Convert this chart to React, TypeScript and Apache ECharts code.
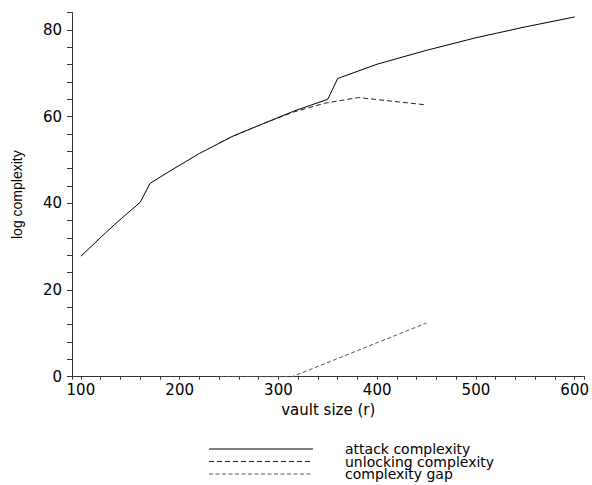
import React, { useEffect, useRef } from "react";
import * as echarts from "echarts";

const seriesNames = ["attack complexity", "unlocking complexity", "complexity gap"];

const attackX = [100, 125, 141, 160, 170, 192, 220, 254, 287, 316, 350, 360, 400, 450, 500, 550, 600];
const attackY = [27.8, 33.2, 36.5, 40.2, 44.6, 47.7, 51.5, 55.5, 58.6, 61.3, 64.0, 68.8, 72.1, 75.3, 78.2, 80.7, 83.0];

const unlockX = [240, 254, 287, 316, 347, 381, 450];
const unlockY = [53.9, 55.5, 58.6, 61.1, 63.1, 64.4, 62.7];

const gapX = [240, 314, 450];
const gapY = [0, 0, 12.4];

const xTickLabels = [100, 200, 300, 400, 500, 600];
const yTickLabels = [0, 20, 40, 60, 80];

const pairs = (xs: number[], ys: number[]) => xs.map((x, i) => [x, ys[i]]);

const lineStyles = [
  { color: "#000", width: 1, type: "solid" as any, dash: null as number[] | null },
  { color: "#222", width: 1, type: [5, 3] as any, dash: [5, 3] },
  { color: "#555", width: 1, type: [4, 2.5] as any, dash: [4, 2.5] },
];

export default function App() {
  const ref = useRef<HTMLDivElement>(null);
  useEffect(() => {
    document.body.style.margin = "0";
    if (!ref.current) return;
    const chart = echarts.init(ref.current, undefined, { renderer: "svg" });
    const axisColor = "#333";
    const legendRows = [449, 461.5, 474];
    const legendGraphics: any[] = [];
    seriesNames.forEach((name, i) => {
      const ls = lineStyles[i];
      legendGraphics.push({
        type: "line",
        shape: { x1: 209, y1: legendRows[i], x2: 313, y2: legendRows[i] },
        style: { stroke: ls.color, lineWidth: 1, lineDash: ls.dash || undefined },
        silent: true,
      });
      legendGraphics.push({
        type: "text",
        x: 345,
        y: legendRows[i],
        style: {
          text: name,
          fill: "#000",
          fontFamily: "DejaVu Sans",
          fontSize: 14,
          lineHeight: 12,
          verticalAlign: "middle",
          align: "left",
        },
        silent: true,
      });
    });
    chart.setOption({
      animation: false,
      backgroundColor: "#fff",
      grid: { left: 72, right: 6, top: 12.6, bottom: 108.3, containLabel: false },
      xAxis: {
        type: "value",
        min: 91,
        max: 610,
        splitNumber: 26,
        axisLine: { show: true, onZero: false, lineStyle: { color: axisColor, width: 1 } },
        axisTick: { show: true, length: 3, lineStyle: { color: axisColor } },
        splitLine: { show: false },
        axisLabel: {
          margin: 6,
          color: "#000",
          fontFamily: "DejaVu Sans",
          fontSize: 15,
          showMinLabel: true,
          showMaxLabel: true,
          formatter: (v: number) => (xTickLabels.includes(v) ? String(v) : ""),
        },
        name: "vault size (r)",
        nameLocation: "middle",
        nameGap: 25,
        nameTextStyle: { color: "#000", fontFamily: "DejaVu Sans", fontSize: 15 },
      },
      yAxis: {
        type: "value",
        min: 0,
        max: 84,
        interval: 4,
        axisLine: { show: true, onZero: false, lineStyle: { color: axisColor, width: 1 } },
        axisTick: { show: true, length: 5, lineStyle: { color: axisColor } },
        splitLine: { show: false },
        axisLabel: {
          margin: 10,
          color: "#000",
          fontFamily: "DejaVu Sans",
          fontSize: 15,
          formatter: (v: number) => (yTickLabels.includes(v) ? String(v) : ""),
        },
        name: "log complexity",
        nameLocation: "middle",
        nameGap: 48,
        nameTextStyle: { color: "#000", fontFamily: "Liberation Sans", fontSize: 14 },
      },
      graphic: legendGraphics,
      series: seriesNames.map((name, i) => ({
        name,
        type: "line",
        data: [pairs(attackX, attackY), pairs(unlockX, unlockY), pairs(gapX, gapY)][i],
        symbol: "none",
        z: 3,
        lineStyle: { color: lineStyles[i].color, width: 1, type: lineStyles[i].type },
        itemStyle: { color: lineStyles[i].color },
      })),
    });
    return () => chart.dispose();
  }, []);
  return <div ref={ref} style={{ width: 592, height: 485 }} />;
}
